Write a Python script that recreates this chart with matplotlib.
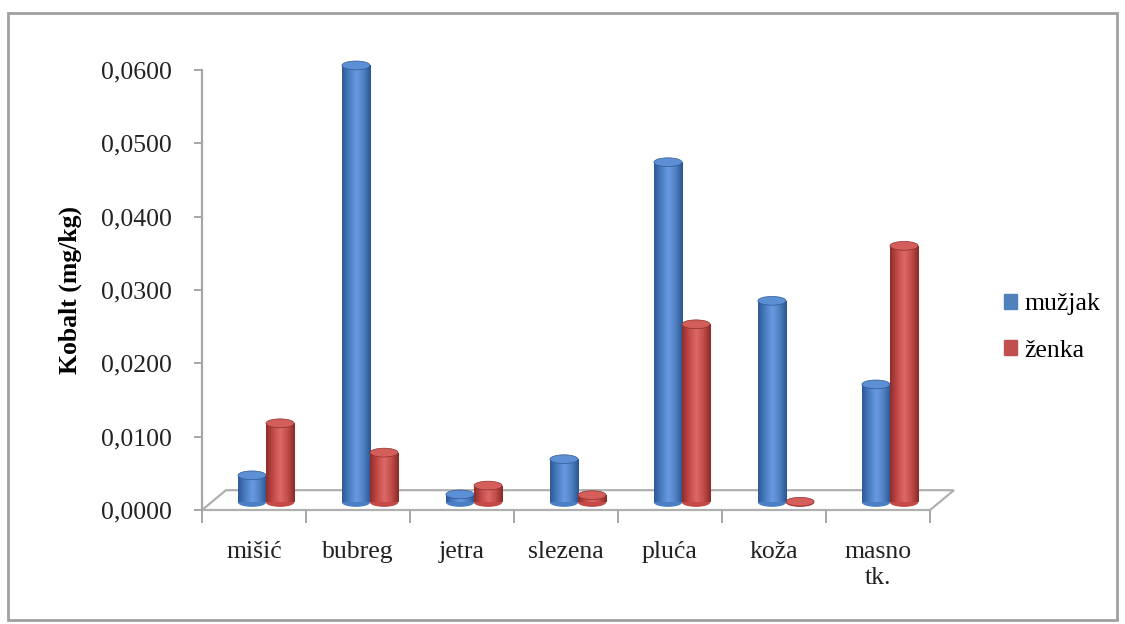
import matplotlib
matplotlib.use("Agg")
import matplotlib.pyplot as plt
import numpy as np
from matplotlib.colors import LinearSegmentedColormap
from matplotlib.patches import Ellipse, Polygon, Rectangle
from matplotlib.ticker import FuncFormatter

# data
categories = ["mišić", "bubreg", "jetra", "slezena", "pluća", "koža", "masno\ntk."]
series_names = ["mužjak", "ženka"]
muzjak = [0.0037, 0.0596, 0.0011, 0.0059, 0.0464, 0.0275, 0.0161]
zenka = [0.0108, 0.0068, 0.0023, 0.0010, 0.0243, 0.0001, 0.0350]
y_ticks = [0.0, 0.01, 0.02, 0.03, 0.04, 0.05, 0.06]

# styles
BLUE = "#4F81BD"
RED = "#C0504D"
SHADES = {
    BLUE: ["#2f5a94", "#4a7fc4", "#6b9ae0", "#4f81c4", "#2c5590"],
    RED: ["#8e2e2c", "#c44a47", "#dc6a66", "#c24d4a", "#8a2b29"],
}
TOPS = {BLUE: "#5d8fd4", RED: "#d35e5a"}
BAR_W = 0.27
DEPTH_X = 0.23   # floor depth in x data units
DEPTH_Y = 0.0027  # floor depth in y data units
FONT = "Liberation Serif"

plt.rcParams["font.family"] = [FONT, "DejaVu Serif"]

fig = plt.figure(figsize=(11.25, 6.24), dpi=100)
ax = fig.add_axes([0.1796, 0.1827, 0.6471, 0.7051])

n = len(categories)
x = np.arange(n) + 0.5
base = DEPTH_Y * 0.38
shift = DEPTH_X / 2

# 3d-ish floor
floor = Polygon([[0, 0], [DEPTH_X, DEPTH_Y], [n + DEPTH_X, DEPTH_Y], [n, 0]],
                closed=True, facecolor="white", edgecolor="#b0b0b0", lw=1.6, zorder=1,
                clip_on=False)
ax.add_patch(floor)


def cylinder_bars(xpos, vals, color):
    cmap = LinearSegmentedColormap.from_list("c", SHADES[color])
    grad = np.linspace(0, 1, 64).reshape(1, -1)
    bars = ax.bar(xpos, vals, width=BAR_W, bottom=base, color=color, lw=0, zorder=3,
                  clip_on=False)
    ry = 0.0006
    for b in bars:
        x0, w, h = b.get_x(), b.get_width(), b.get_height()
        # rounded bottom
        ax.add_patch(Ellipse((x0 + w / 2, base), w, 2 * ry, facecolor=SHADES[color][1],
                             lw=0, zorder=2.9, clip_on=False))
        im = ax.imshow(grad, extent=[x0, x0 + w, base, base + h], aspect="auto",
                       cmap=cmap, zorder=3.1, interpolation="bicubic")
        im.set_clip_path(b)
        # top cap
        ax.add_patch(Ellipse((x0 + w / 2, base + h), w, 2 * ry, facecolor=TOPS[color],
                             edgecolor=SHADES[color][0], lw=0.5, zorder=3.2, clip_on=False))
    return bars


cylinder_bars(x + shift - BAR_W / 2, muzjak, BLUE)
cylinder_bars(x + shift + BAR_W / 2, zenka, RED)

ax.set_xlim(0, n)
ax.set_ylim(0, 0.06)

for s in ["top", "right", "bottom"]:
    ax.spines[s].set_visible(False)
ax.spines["left"].set_color("#a6a6a6")
ax.spines["left"].set_linewidth(1.6)

ax.set_yticks(y_ticks)
ax.yaxis.set_major_formatter(FuncFormatter(lambda v, p: f"{v:.4f}".replace(".", ",")))
ax.tick_params(axis="y", direction="out", length=6, width=1.4, color="#a6a6a6",
               labelsize=18.5, pad=16, labelcolor="#222222")

ax.set_xticks(np.arange(n + 1))
ax.set_xticklabels([""] * (n + 1))
ax.tick_params(axis="x", which="major", direction="out", length=9, width=1.4, color="#a6a6a6")
ax.set_xticks(x, minor=True)
ax.set_xticklabels(categories, minor=True, fontsize=18.5, color="#222222", linespacing=1.25)
ax.tick_params(axis="x", which="minor", length=0, pad=22)

ax.set_ylabel("Kobalt (mg/kg)", fontsize=18.5, fontweight="bold")
ax.yaxis.set_label_coords(-0.165, 0.5)

# legend
handles = [Rectangle((0, 0), 1, 1, color=c) for c in (BLUE, RED)]
fig.legend(handles, series_names, loc="center left", bbox_to_anchor=(0.872, 0.475),
           frameon=False, fontsize=18.5, handlelength=0.5, handleheight=0.5,
           handletextpad=0.3, labelspacing=0.95)

# outer chart border
fig.add_artist(Rectangle((0.007, 0.007), 0.986, 0.972, transform=fig.transFigure,
                         fill=False, edgecolor="#a0a0a0", lw=2))

fig.savefig("out.png", dpi=100)
